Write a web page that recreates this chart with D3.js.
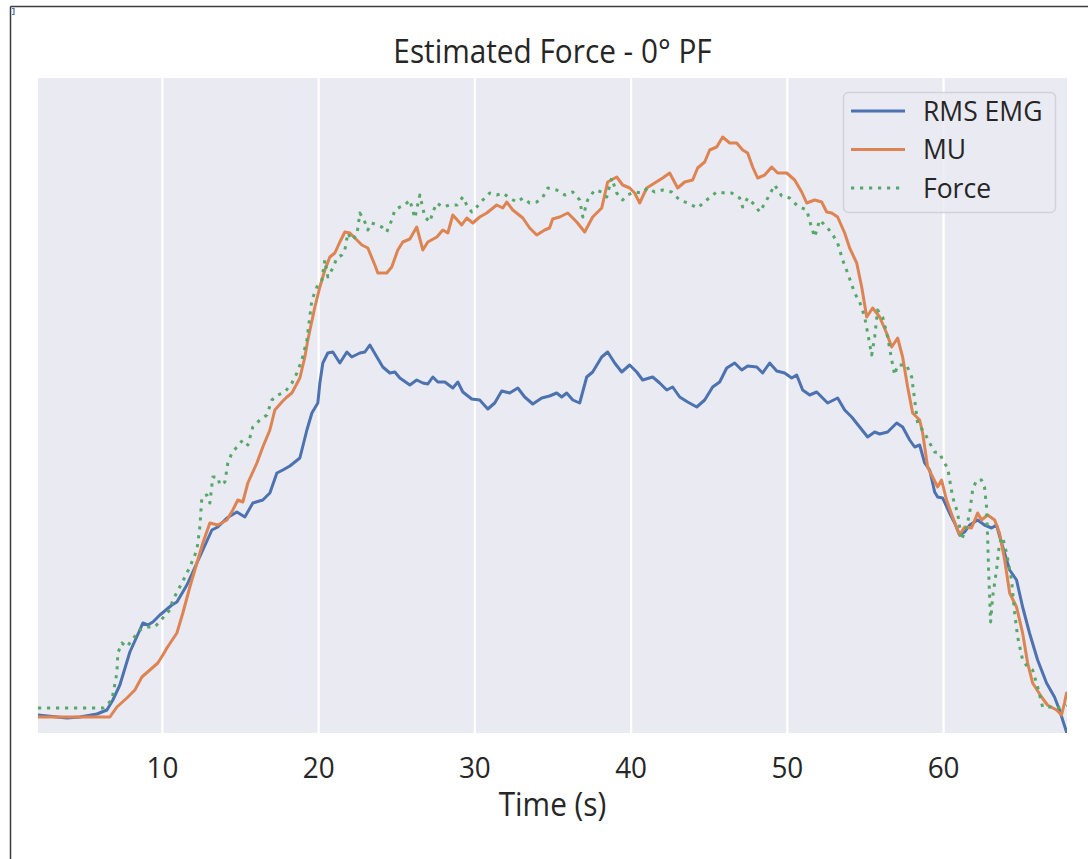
<!DOCTYPE html>
<html>
<head>
<meta charset="utf-8">
<script src="https://cdn.jsdelivr.net/npm/d3@7"></script>
<style>
  body { margin: 0; background: #fff; }
  text { font-family: "Open Sans", "DejaVu Sans", sans-serif; fill: #262626; }
</style>
</head>
<body>
<svg id="chart" width="1088" height="859"></svg>
<script>
// Time axis ticks and labels
const xTicks = [10, 20, 30, 40, 50, 60];
const seriesNames = ["RMS EMG", "MU", "Force"];

// RMS EMG estimate (arbitrary units) over time (s)
const emgTime = [2.07,3.92,4.75,5.84,6.48,6.86,7.31,7.95,8.59,8.78,9.10,9.42,9.87,10.64,10.96,11.60,12.24,12.62,13.20,13.58,14.16,14.80,15.31,15.82,16.46,16.91,17.36,17.74,18.19,18.51,18.83,19.28,19.60,19.98,20.11,20.30,20.62,20.94,21.39,21.84,22.15,22.67,22.99,23.31,23.76,24.14,24.59,24.91,25.23,25.87,26.31,26.70,27.02,27.34,27.66,28.11,28.62,28.94,29.26,29.83,30.34,30.86,31.30,31.75,32.26,32.78,33.22,33.74,34.31,34.81,35.27,35.59,35.91,36.30,36.74,37.19,37.57,38.15,38.53,38.98,39.43,39.94,40.39,40.77,41.41,41.86,42.31,42.69,43.14,43.65,44.23,44.74,45.25,45.70,46.15,46.66,47.11,47.49,48.07,48.45,48.90,49.35,49.86,50.31,50.63,51.01,51.46,51.91,52.29,52.61,53.25,53.70,54.15,54.66,55.17,55.62,55.94,56.45,57.03,57.41,57.86,58.18,58.50,58.82,59.14,59.46,59.65,59.97,60.41,60.74,61.05,61.38,61.70,62.21,62.65,63.10,63.42,63.74,64.26,64.70,65.09,65.53,66.05,66.62,67.13,67.45,67.90];
const emgValue = [1.8,1.5,1.6,1.9,2.3,3.3,4.8,8.1,10.3,11.0,10.8,11.1,11.8,12.8,13.1,14.8,17.0,18.3,20.3,20.6,21.5,22.1,21.6,23.0,23.3,24.0,26.0,26.3,26.7,27.1,27.5,30.3,32.0,33.0,35.0,37.0,38.0,38.1,37.0,38.1,37.6,38.0,38.1,38.8,37.6,36.6,36.0,36.1,35.5,34.8,35.3,35.0,34.9,35.6,35.1,35.1,34.5,35.1,34.1,33.4,33.3,32.4,33.0,34.2,34.0,34.5,33.6,32.9,33.5,33.7,34.0,33.6,34.0,33.3,33.0,35.6,36.1,37.6,38.1,37.0,36.1,36.8,36.1,35.3,35.6,35.0,34.3,34.6,33.6,33.1,32.6,33.3,34.6,35.1,36.5,37.0,36.3,36.7,36.6,36.0,37.0,36.2,36.0,35.5,35.8,34.3,33.8,34.1,33.5,33.0,33.5,32.3,31.6,30.6,29.6,30.1,29.9,30.1,31.0,30.6,29.3,28.6,28.8,27.0,26.3,24.1,23.6,23.5,22.0,21.0,19.8,20.1,20.8,21.3,20.8,20.5,20.8,19.0,16.3,15.3,12.6,10.0,7.3,5.0,3.6,2.3,0.1];

// Motor-unit based estimate
const muTime = [2.07,6.67,7.12,7.76,8.27,8.72,9.23,9.74,10.06,10.32,10.96,11.34,11.79,12.24,12.62,13.07,13.58,14.16,14.54,14.86,15.18,15.50,16.08,16.46,16.91,17.23,17.68,18.00,18.32,18.83,19.15,19.34,19.79,20.11,20.43,20.75,21.07,21.39,21.71,22.03,22.35,22.80,23.18,23.63,23.82,24.39,24.71,25.10,25.42,25.87,26.31,26.70,27.02,27.60,27.98,28.30,28.62,29.19,29.51,29.90,30.34,30.79,31.43,31.82,32.07,32.46,33.10,33.54,33.99,34.50,34.81,35.01,35.46,35.98,36.55,37.06,37.57,38.15,38.53,39.11,39.49,39.94,40.26,40.58,41.03,41.54,42.05,42.50,43.01,43.46,43.97,44.29,44.74,45.06,45.51,45.89,46.34,46.79,47.17,47.49,47.81,48.13,48.58,49.03,49.41,49.99,50.50,50.95,51.27,51.78,52.23,52.55,52.87,53.25,53.70,54.02,54.47,54.79,55.11,55.49,55.94,56.38,56.71,57.09,57.41,57.73,58.05,58.50,58.69,59.01,59.33,59.65,59.90,60.22,60.61,61.05,61.38,61.82,62.21,62.46,62.85,63.30,63.61,63.94,64.26,64.70,65.09,65.41,65.73,66.30,66.68,67.26,67.58,67.77,67.90];
const muValue = [1.6,1.6,2.6,3.5,4.3,5.6,6.3,7.0,7.8,8.5,10.0,12.0,14.6,17.0,19.0,21.0,20.8,21.3,22.3,23.3,23.1,25.0,27.0,28.6,30.3,32.3,33.1,33.6,34.0,35.5,37.6,39.3,42.6,44.6,46.3,47.6,48.0,49.1,50.1,50.0,49.5,48.8,48.5,46.8,46.0,46.0,46.6,48.3,49.1,49.4,50.6,48.3,49.1,49.6,50.3,50.0,51.8,50.8,51.5,51.0,51.6,52.0,52.8,52.5,53.1,52.3,51.5,50.5,49.8,50.3,50.5,51.4,51.6,52.0,51.1,50.1,51.6,52.5,55.1,55.6,54.8,54.5,54.0,53.0,54.5,55.0,55.5,56.0,54.5,55.1,55.3,56.5,57.1,58.3,58.6,59.6,59.0,59.0,58.3,58.0,56.6,55.5,55.8,56.6,56.0,56.0,55.3,54.1,53.0,53.3,53.1,52.1,52.0,51.6,50.0,48.5,47.0,44.6,41.6,42.5,41.6,40.0,38.6,39.5,37.6,34.6,32.0,31.3,30.0,26.6,25.6,24.6,25.3,23.3,21.6,19.8,20.6,20.5,22.0,21.3,21.8,21.3,20.0,17.3,14.0,12.6,10.0,7.0,5.0,3.6,2.8,2.3,1.8,3.0,4.0];

// Measured force
const forceTime = [2.07,6.23,6.80,7.12,7.18,7.44,7.76,8.08,8.59,9.04,9.55,10.06,10.51,10.70,11.28,11.79,12.24,12.43,12.56,12.88,13.07,13.26,13.58,13.71,14.03,14.22,14.48,14.80,15.18,15.50,15.82,16.27,16.72,17.04,17.42,17.87,18.32,18.64,18.96,19.28,19.60,19.92,20.24,20.43,20.62,20.94,21.20,21.52,21.71,21.90,22.15,22.48,22.67,22.99,23.18,23.43,23.76,24.08,24.39,24.71,24.91,25.23,25.55,25.87,26.19,26.51,26.83,27.15,27.34,27.60,27.98,28.42,28.88,29.26,29.51,29.83,30.15,30.54,30.98,31.43,31.82,32.26,32.71,33.10,33.54,33.99,34.38,34.70,35.27,35.78,36.30,36.74,36.94,37.25,37.70,38.15,38.47,38.79,39.11,39.49,39.81,40.26,40.71,41.10,41.54,42.05,42.63,43.14,43.65,44.29,44.87,45.51,46.02,46.47,46.98,47.17,47.49,47.94,48.26,48.71,49.22,49.67,50.18,50.69,51.27,51.59,51.78,52.10,52.55,52.87,53.25,53.57,53.89,54.34,54.66,54.98,55.17,55.43,55.62,55.81,56.13,56.45,56.71,56.90,57.09,57.66,57.99,58.18,58.37,58.82,59.14,59.46,59.78,59.97,60.29,60.61,60.93,61.18,61.50,61.70,61.89,62.14,62.46,62.65,62.78,62.85,62.91,63.04,63.17,63.42,63.61,63.81,64.06,64.38,64.58,64.77,65.09,65.41,65.73,66.05,66.37,66.94,67.33,67.64,67.90];
const forceValue = [2.5,2.5,3.3,6.0,8.0,9.0,8.6,9.3,10.3,10.6,10.6,11.5,12.3,13.3,15.0,16.6,18.3,20.6,23.6,23.8,23.0,25.6,25.6,24.8,25.1,27.0,28.0,28.6,29.3,28.8,30.6,31.3,31.8,33.3,33.8,34.1,35.0,36.0,37.3,39.3,43.3,44.6,45.3,47.3,45.6,46.5,47.5,47.8,48.3,50.0,49.3,49.8,52.0,51.1,50.3,51.0,50.8,50.6,50.1,51.3,52.3,52.6,52.8,53.3,51.5,53.8,51.6,51.1,52.1,53.0,52.6,52.8,52.8,53.6,52.8,52.1,52.6,53.3,54.0,53.8,54.0,53.5,53.1,53.5,53.0,53.1,53.6,54.5,54.3,53.8,54.1,53.3,51.6,53.3,54.3,54.1,53.6,55.5,54.0,53.3,53.8,54.1,54.0,54.5,54.1,54.3,54.1,53.3,53.0,52.5,53.3,54.1,54.0,54.0,53.5,52.6,53.5,52.8,52.1,53.3,54.8,53.7,53.5,52.7,52.3,50.5,49.6,51.3,50.6,50.0,49.0,47.3,46.0,44.0,43.1,41.6,40.0,37.8,39.6,42.3,41.6,39.6,37.3,35.8,36.8,36.8,35.6,33.3,31.0,30.0,29.0,28.1,28.0,27.3,26.5,23.6,22.0,19.3,20.6,22.0,24.3,25.3,25.3,24.6,22.6,19.6,16.3,11.1,13.6,16.3,19.0,19.6,18.0,15.3,12.0,9.6,7.3,6.6,6.3,4.6,2.6,2.6,2.5,2.6,2.8];

const colors = ["#4c72b0", "#dd8452", "#55a868"];
const series = [
  { name: seriesNames[0], t: emgTime, v: emgValue, color: colors[0], dash: null },
  { name: seriesNames[1], t: muTime, v: muValue, color: colors[1], dash: null },
  { name: seriesNames[2], t: forceTime, v: forceValue, color: colors[2], dash: "3.2,5.8" }
];

const svg = d3.select("#chart");
const plot = { left: 38, right: 1067, top: 78, bottom: 733 };
const sx = 0.93; // slight horizontal narrowing of title and axis labels

// frame lines along the top and left of the figure
svg.append("line").attr("x1", 10.5).attr("y1", 6.5).attr("x2", 1088).attr("y2", 6.5)
  .attr("stroke", "#3c3c3c").attr("stroke-width", 1.5);
svg.append("line").attr("x1", 10.5).attr("y1", 6.5).attr("x2", 10.5).attr("y2", 859)
  .attr("stroke", "#3c3c3c").attr("stroke-width", 1.5);
svg.append("path").attr("d", "M12,8.5 h2 v6 h-2").attr("fill", "none")
  .attr("stroke", "#3f6fb5").attr("stroke-width", 1.2);

const x = d3.scaleLinear().domain([2.07, 67.93]).range([plot.left, plot.right]);
const y = d3.scaleLinear().domain([0, 65.5]).range([plot.bottom, plot.top]);

// axes background
svg.append("rect").attr("x", plot.left).attr("y", plot.top)
  .attr("width", plot.right - plot.left).attr("height", plot.bottom - plot.top)
  .attr("fill", "#eaeaf2");

// vertical grid
const grid = svg.append("g").attr("transform", `translate(0,${plot.bottom})`)
  .call(d3.axisBottom(x).tickValues(xTicks).tickSize(-(plot.bottom - plot.top)).tickFormat(""));
grid.select(".domain").remove();
grid.selectAll(".tick line").attr("stroke", "#ffffff").attr("stroke-width", 2.2);

// tick labels
const axis = svg.append("g").attr("transform", `translate(0,${plot.bottom})`)
  .call(d3.axisBottom(x).tickValues(xTicks).tickSize(0).tickFormat(d3.format("d")));
axis.select(".domain").remove();
axis.selectAll(".tick text")
  .attr("y", 0).attr("dy", null)
  .attr("transform", `translate(0,45) scale(${sx},1)`)
  .style("font-size", "30px").attr("fill", "#262626");

// clipping for the data lines
svg.append("clipPath").attr("id", "plotClip").append("rect")
  .attr("x", plot.left).attr("y", plot.top)
  .attr("width", plot.right - plot.left).attr("height", plot.bottom - plot.top);

const line = d3.line().x(d => x(d[0])).y(d => y(d[1]));
const lines = svg.append("g").attr("clip-path", "url(#plotClip)");
series.forEach(s => {
  const pts = s.t.map((t, i) => [t, s.v[i]]);
  lines.append("path").datum(pts)
    .attr("d", line)
    .attr("fill", "none")
    .attr("stroke", s.color)
    .attr("stroke-width", 3)
    .attr("stroke-linejoin", "round")
    .attr("stroke-linecap", s.dash ? "butt" : "round")
    .attr("stroke-dasharray", s.dash);
});

// title and axis label
svg.append("text").attr("transform", `translate(${(plot.left + plot.right) / 2},63) scale(${sx},1)`)
  .attr("text-anchor", "middle").style("font-size", "32px").text("Estimated Force - 0° PF");
svg.append("text").attr("transform", `translate(${(plot.left + plot.right) / 2},816) scale(${sx},1)`)
  .attr("text-anchor", "middle").style("font-size", "32px").text("Time (s)");

// legend
const legend = svg.append("g");
legend.append("rect").attr("x", 843.5).attr("y", 92.5).attr("width", 212).attr("height", 120)
  .attr("rx", 5).attr("fill", "#eaeaf2").attr("fill-opacity", 0.85)
  .attr("stroke", "#d2d2d8").attr("stroke-width", 1.5);
series.forEach((s, i) => {
  const ly = 111 + i * 38.5;
  legend.append("line").attr("x1", 851).attr("x2", 905).attr("y1", ly).attr("y2", ly)
    .attr("stroke", s.color).attr("stroke-width", 3)
    .attr("stroke-dasharray", s.dash);
  legend.append("text").attr("x", 923).attr("y", ly + 9.5)
    .style("font-size", "26.5px").text(s.name);
});
</script>
</body>
</html>
